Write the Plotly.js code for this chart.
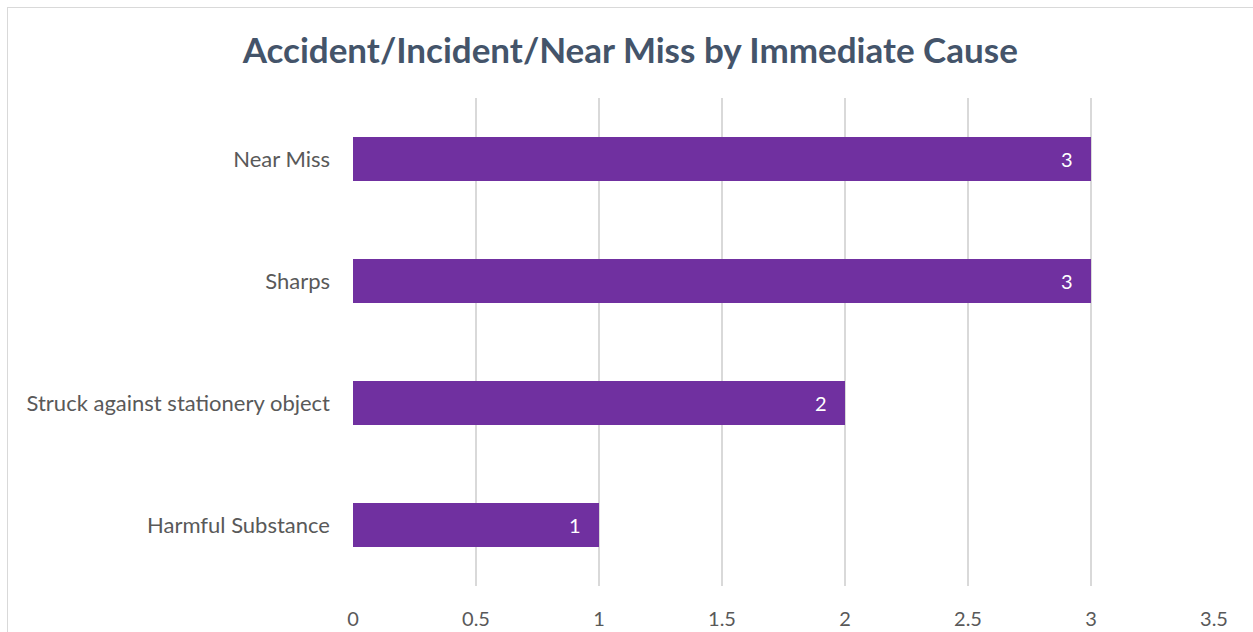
<!DOCTYPE html>
<html>
<head>
<meta charset="utf-8">
<script src="https://cdn.plot.ly/plotly-3.0.1.min.js"></script>
<style>
html,body{margin:0;padding:0;overflow:hidden;background:#fff;}
#frame{position:absolute;left:7px;top:7px;width:1300px;height:700px;border:1.5px solid #d9d9d9;box-sizing:border-box;pointer-events:none;z-index:5;}
#chart{position:absolute;left:0;top:0;width:1253px;height:632px;}
</style>
</head>
<body>
<div id="chart"></div>
<div id="frame"></div>
<script>
const categories = ["Harmful Substance", "Struck against stationery object", "Sharps", "Near Miss"];
const counts = [1, 2, 3, 3];
const xTicks = [0, 0.5, 1, 1.5, 2, 2.5, 3, 3.5];

const trace = {
  type: 'bar',
  orientation: 'h',
  y: categories,
  x: counts,
  marker: {color: '#7030A0'},
  text: counts.map(v => String(v) + '\u00a0\u00a0\u00a0'),
  textposition: 'inside',
  insidetextanchor: 'end',
  textfont: {family: 'Lato, sans-serif', size: 20, color: '#ffffff'},
  hoverinfo: 'none'
};

const layout = {
  width: 1253, height: 632,
  margin: {l: 353, r: 39, t: 98, b: 46},
  paper_bgcolor: '#ffffff',
  plot_bgcolor: '#ffffff',
  font: {family: 'Lato, sans-serif', color: '#595959', size: 20},
  title: {
    text: '<b>Accident/Incident/Near Miss by Immediate Cause</b>',
    font: {family: 'Lato, sans-serif', size: 35, color: '#44546A'},
    x: 0.503, xref: 'container', xanchor: 'center',
    y: 1 - 51/632, yref: 'container', yanchor: 'middle'
  },
  bargap: 0.64,
  showlegend: false,
  xaxis: {
    range: [0, 3.5],
    tickvals: xTicks,
    ticktext: xTicks.map(String),
    showgrid: true, gridcolor: '#d9d9d9', gridwidth: 1.5,
    zeroline: false, showline: false,
    ticks: '', ticklabelstandoff: 19,
    tickfont: {size: 20, color: '#595959'},
    fixedrange: true
  },
  yaxis: {
    type: 'category',
    categoryorder: 'array', categoryarray: categories,
    range: [-0.5, 3.5],
    showgrid: false, zeroline: false, showline: false,
    ticks: '', ticklabelstandoff: 22,
    tickfont: {size: 22, color: '#595959'},
    fixedrange: true
  }
};

Plotly.newPlot('chart', [trace], layout, {displayModeBar: false, staticPlot: true});
</script>
</body>
</html>
